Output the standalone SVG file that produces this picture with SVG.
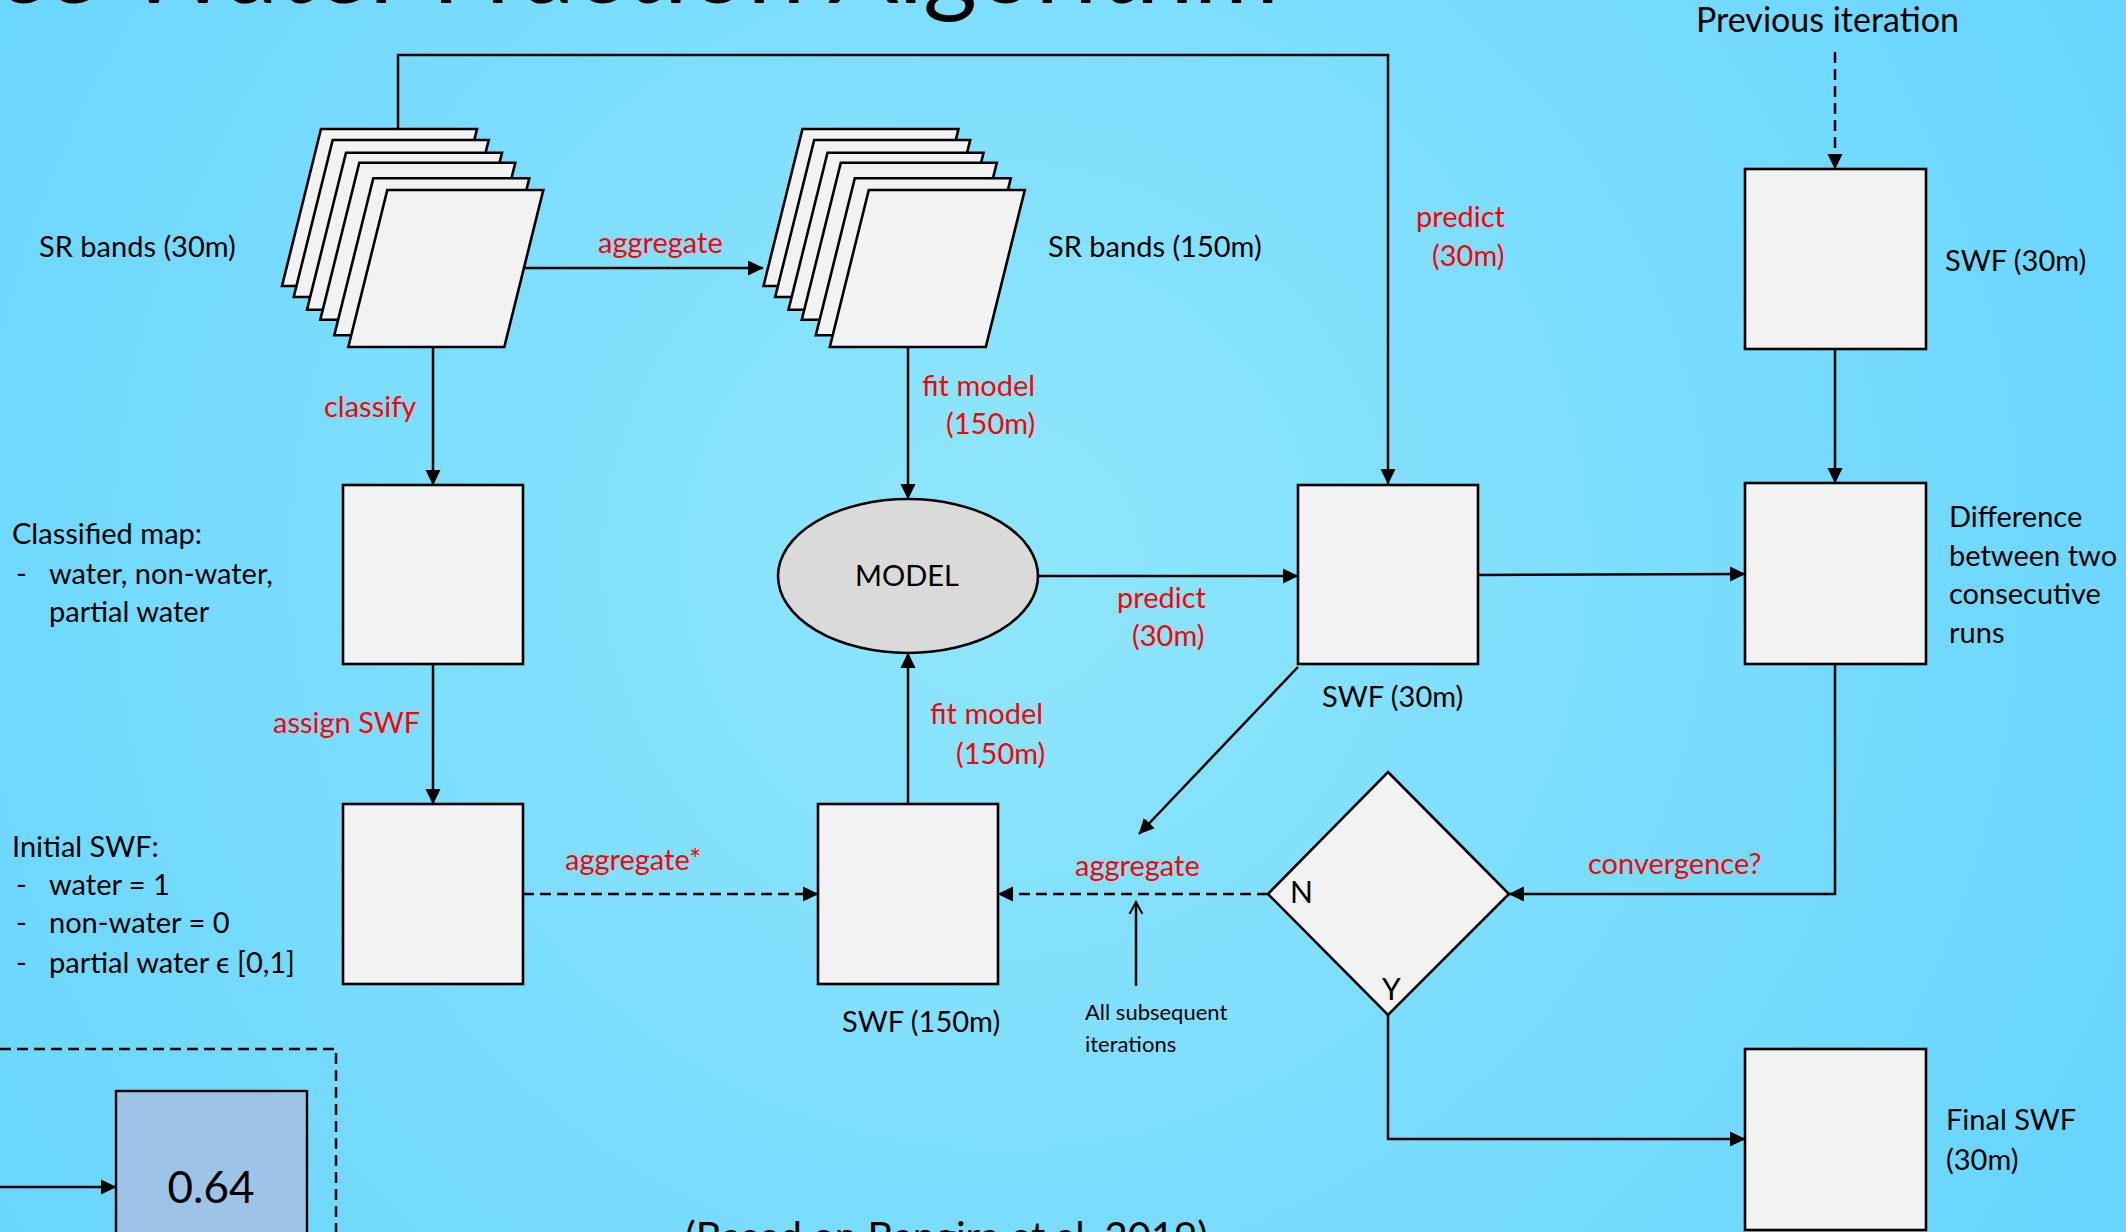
<svg xmlns="http://www.w3.org/2000/svg" xmlns:xlink="http://www.w3.org/1999/xlink" width="2126" height="1232" viewBox="0 0 2126 1232">
<defs>
<radialGradient id="bg" cx="1000" cy="560" r="1250" gradientUnits="userSpaceOnUse">
<stop offset="0" stop-color="#8FE6FC"/>
<stop offset="1" stop-color="#68D5FE"/>
</radialGradient>
<marker id="arr" markerUnits="userSpaceOnUse" markerWidth="16" markerHeight="16" viewBox="0 0 16 16" refX="15" refY="8" orient="auto">
<path d="M0,0.5 L15.5,8 L0,15.5 z" fill="#000"/>
</marker>
<marker id="open" markerUnits="userSpaceOnUse" markerWidth="16" markerHeight="16" viewBox="0 0 16 16" refX="14" refY="8" orient="auto">
<path d="M2,1.5 L14,8 L2,14.5" fill="none" stroke="#000" stroke-width="2"/>
</marker>
<polygon id="sheet" points="0,0 156,0 117,157 -39,157"/>
</defs>
<style>
text{font-family:Lato,"Liberation Sans",sans-serif;fill:#000}
.lbl{font-size:29px}
.red{font-size:29px;fill:#FF0000}
.box{fill:#F2F2F2;stroke:#000;stroke-width:2.6}
.sh{fill:#F2F2F2;stroke:#000;stroke-width:2.6;stroke-linejoin:miter}
.c{fill:none;stroke:#000;stroke-width:2.5}
.d{fill:none;stroke:#000;stroke-width:2.5;stroke-dasharray:11 6}
</style>
<rect width="2126" height="1232" fill="url(#bg)"/>

<text x="1279" y="3" font-size="104" text-anchor="end">Surface Water Fraction Algorithm</text>

<g id="connectors">
<path class="c" d="M398,129 V55 H1388 V484" marker-end="url(#arr)"/>
<path class="c" d="M523,268 H763" marker-end="url(#arr)"/>
<path class="c" d="M433,347 V485" marker-end="url(#arr)"/>
<path class="c" d="M908,347 V499" marker-end="url(#arr)"/>
<path class="c" d="M433,664 V804" marker-end="url(#arr)"/>
<path class="d" d="M523,894 H818" marker-end="url(#arr)"/>
<path class="c" d="M908,804 V653" marker-end="url(#arr)"/>
<path class="c" d="M1038,576 H1298" marker-end="url(#arr)"/>
<path class="c" d="M1478,575 L1745,574" marker-end="url(#arr)"/>
<path class="c" d="M1835,349 V483" marker-end="url(#arr)"/>
<path class="d" d="M1835,52 V169" marker-end="url(#arr)"/>
<path class="c" d="M1835,664 V894 H1509" marker-end="url(#arr)"/>
<path class="d" d="M1268,894 H998" marker-end="url(#arr)"/>
<path class="c" d="M1388,1015 V1139 H1745" marker-end="url(#arr)"/>
<path class="c" d="M1298,667 L1139,834" marker-end="url(#arr)"/>
<path class="c" d="M1136,986 V902" marker-end="url(#open)"/>
<path class="c" d="M0,1187 H116" marker-end="url(#arr)"/>
<path class="d" d="M0,1049 H336 V1232"/>
</g>

<g id="sr30">
<use href="#sheet" class="sh" x="321" y="129"/>
<use href="#sheet" class="sh" x="332.7" y="140"/>
<use href="#sheet" class="sh" x="346" y="152.7"/>
<use href="#sheet" class="sh" x="359.3" y="162.7"/>
<use href="#sheet" class="sh" x="373.3" y="178.3"/>
<use href="#sheet" class="sh" x="387.3" y="190"/>
<text class="lbl" x="39" y="257">SR bands (30m)</text>
</g>

<g id="sr150">
<use href="#sheet" class="sh" x="802.5" y="129"/>
<use href="#sheet" class="sh" x="814.2" y="140"/>
<use href="#sheet" class="sh" x="827.5" y="152.7"/>
<use href="#sheet" class="sh" x="840.8" y="162.7"/>
<use href="#sheet" class="sh" x="854.8" y="178.3"/>
<use href="#sheet" class="sh" x="868.8" y="190"/>
<text class="lbl" x="1048" y="257">SR bands (150m)</text>
</g>

<g id="classified">
<rect class="box" x="343" y="485" width="180" height="179"/>
<text class="lbl" x="12" y="544">Classified map:</text>
<text class="lbl" x="16" y="584">-</text>
<text class="lbl" x="49" y="584">water, non-water,</text>
<text class="lbl" x="49" y="622">partial water</text>
</g>

<g id="initial">
<rect class="box" x="343" y="804" width="180" height="180"/>
<text class="lbl" x="12" y="857">Initial SWF:</text>
<text class="lbl" x="16" y="895">-</text>
<text class="lbl" x="49" y="895">water = 1</text>
<text class="lbl" x="16" y="933">-</text>
<text class="lbl" x="49" y="933">non-water = 0</text>
<text class="lbl" x="16" y="973">-</text>
<text class="lbl" x="49" y="973">partial water ϵ [0,1]</text>
</g>

<g id="model">
<ellipse cx="908" cy="576" rx="130" ry="77" fill="#DADADA" stroke="#000" stroke-width="2.6"/>
<text class="lbl" x="907" y="586" text-anchor="middle">MODEL</text>
</g>

<g id="swf150">
<rect class="box" x="818" y="804" width="180" height="180"/>
<text class="lbl" x="842" y="1032">SWF (150m)</text>
</g>

<g id="swf30mid">
<rect class="box" x="1298" y="485" width="180" height="179"/>
<text class="lbl" x="1322" y="707">SWF (30m)</text>
</g>

<g id="swf30top">
<rect class="box" x="1745" y="169" width="181" height="180"/>
<text class="lbl" x="1945" y="271">SWF (30m)</text>
<text x="1696" y="32" font-size="34">Previous iteration</text>
</g>

<g id="difference">
<rect class="box" x="1745" y="483" width="181" height="181"/>
<text class="lbl" x="1949" y="527">Difference</text>
<text class="lbl" x="1949" y="566">between two</text>
<text class="lbl" x="1949" y="604">consecutive</text>
<text class="lbl" x="1949" y="643">runs</text>
</g>

<g id="decision">
<polygon points="1388,772 1509,894 1388,1015 1268,894" fill="#F2F2F2" stroke="#000" stroke-width="2.6"/>
<text x="1290" y="903" font-size="30">N</text>
<text x="1382" y="1000" font-size="30">Y</text>
</g>

<g id="final">
<rect class="box" x="1745" y="1049" width="181" height="181"/>
<text class="lbl" x="1946" y="1130">Final SWF</text>
<text class="lbl" x="1946" y="1170">(30m)</text>
</g>

<g id="example">
<rect x="116" y="1091" width="191" height="160" fill="#9DC3E6" stroke="#000" stroke-width="2.4"/>
<text x="211" y="1203" font-size="44" text-anchor="middle">0.64</text>
</g>

<g id="labels">
<text class="red" x="598" y="253">aggregate</text>
<text class="red" x="324" y="417">classify</text>
<text class="red" x="922" y="396">fit model</text>
<text class="red" x="946" y="434">(150m)</text>
<text class="red" x="1416" y="227">predict</text>
<text class="red" x="1432" y="266">(30m)</text>
<text class="red" x="1117" y="608">predict</text>
<text class="red" x="1132" y="646">(30m)</text>
<text class="red" x="930" y="724">fit model</text>
<text class="red" x="956" y="764">(150m)</text>
<text class="red" x="273" y="733">assign SWF</text>
<text class="red" x="565" y="870">aggregate*</text>
<text class="red" x="1075" y="876">aggregate</text>
<text class="red" x="1588" y="874">convergence?</text>
<text x="1085" y="1020" font-size="22">All subsequent</text>
<text x="1085" y="1052" font-size="22">iterations</text>
<text x="685" y="1251" font-size="40">(Based on Bangira et al. 2019)</text>
</g>
</svg>
